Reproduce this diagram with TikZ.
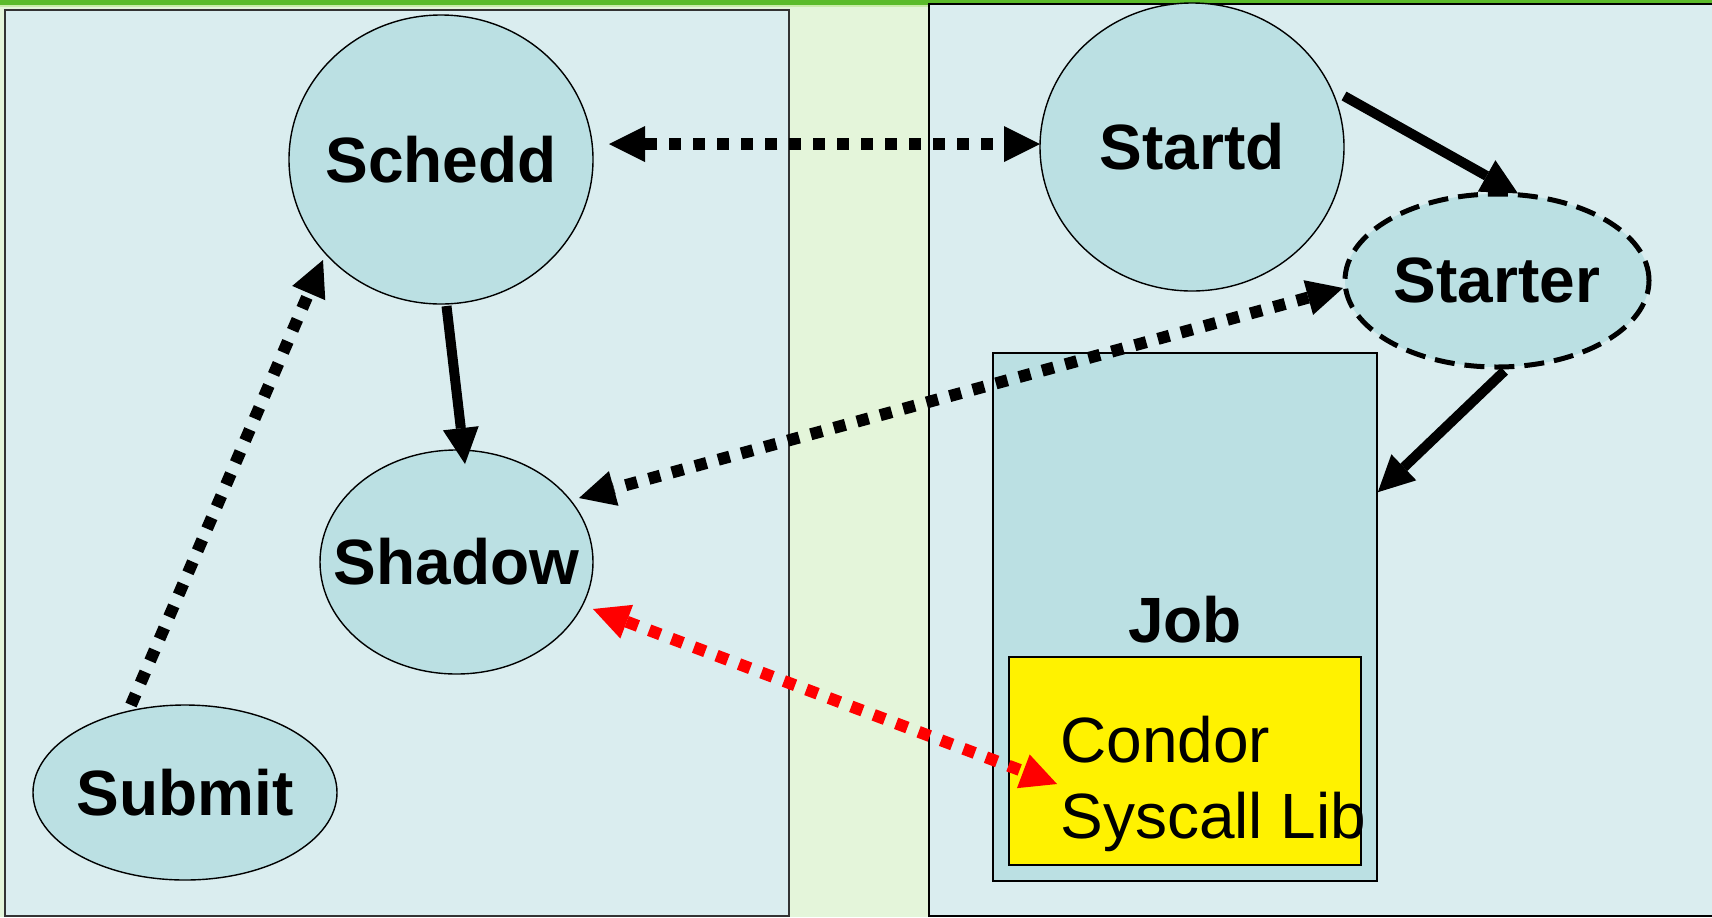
\documentclass[tikz,border=0pt]{standalone}
\usepackage{fontspec}
\setmainfont{Liberation Sans}
\usetikzlibrary{arrows.meta,calc,shapes.geometric}
\definecolor{bggreen}{HTML}{E4F5DA}
\definecolor{topgreen}{HTML}{5BBB2B}
\definecolor{stripgreen}{HTML}{C9ECA9}
\definecolor{panelblue}{HTML}{DAEDEF}
\definecolor{nodeblue}{HTML}{BBE0E3}
\begin{document}
\begin{tikzpicture}[x=0.5pt,y=-0.5pt,
  proc/.style={ellipse, draw=black, line width=0.7pt, fill=nodeblue, inner ysep=0pt, inner xsep=-40pt,
    font=\fontsize{32}{38}\selectfont\bfseries},
  panel/.style={draw=black, line width=1pt, fill=panelblue},
  boxnode/.style={draw=black, line width=0.8pt, inner sep=0pt},
  tiphead/.tip={Triangle[length=18pt,width=18pt,line width=0pt]},
  conn/.style={line width=5pt, -tiphead},
  dotline/.style={line width=6pt, dash pattern=on 6pt off 6pt},
  dotboth/.style={dotline, tiphead-tiphead},
  dotone/.style={dotline, -tiphead}]
\useasboundingbox (0,0) rectangle (1712,917);
\fill[bggreen] (0,0) rectangle (1712,917);
\fill[topgreen] (0,0) rectangle (1712,5);
\fill[stripgreen] (0,5) rectangle (1712,7);
% panels
\draw[panel, draw=black!80] (5,10) rectangle (789,916);
\draw[panel] (929,4) rectangle (1720,916);
% process nodes
\node[proc, minimum width=152pt, minimum height=144.5pt] (schedd) at (441,159.5) {Schedd};
\node[proc, minimum width=152pt, minimum height=144pt] (startd) at (1192,147) {Startd};
\node[proc, minimum width=152pt, minimum height=86.5pt, line width=2.5pt, dash pattern=on 10pt off 5pt] (starter) at (1497,280.5) {Starter};
\node[proc, minimum width=136.5pt, minimum height=112pt] (shadow) at (456.5,562) {Shadow};
\node[proc, minimum width=152pt, minimum height=87.5pt] (submit) at (185,792.5) {Submit};
% job
\node[boxnode, fill=nodeblue, minimum width=192pt, minimum height=264pt] (job) at (1185,617) {};
\node[anchor=base, inner sep=0pt, font=\fontsize{32}{38}\selectfont\bfseries] (joblabel) at (1185,642) {Job};
\node[boxnode, fill=yellow, minimum width=176pt, minimum height=104pt] (syslib) at (1185,761) {};
\node[anchor=base west, align=left, inner sep=0pt, font=\fontsize{32}{38}\selectfont] (libtext) at (1060,838) {Condor\\Syscall Lib};
% connectors
\draw[dotboth] ($(schedd.center)+(168,-15.5)$) -- ($(startd.center)+(-152,-3)$);
\draw[conn] ($(startd.center)+(152,-51)$) -- ($(starter.center)+(21,-87)$);
\draw[conn] ($(schedd.center)+(5.5,146.5)$) -- ($(shadow.center)+(8.5,-98)$);
\draw[dotone] ($(submit.center)+(-54,-87.5)$) -- ($(schedd.center)+(-118,100.5)$);
\draw[dotboth] ($(starter.center)+(-154,7.5)$) -- ($(shadow.center)+(122.5,-64)$);
\draw[conn] ($(starter.center)+(7.5,90.5)$) -- ($(job.north east)+(0,140)$);
\draw[dotboth, red] ($(shadow.center)+(136.5,47)$) -- ($(syslib.center)+(-128,23)$);
\end{tikzpicture}
\end{document}
